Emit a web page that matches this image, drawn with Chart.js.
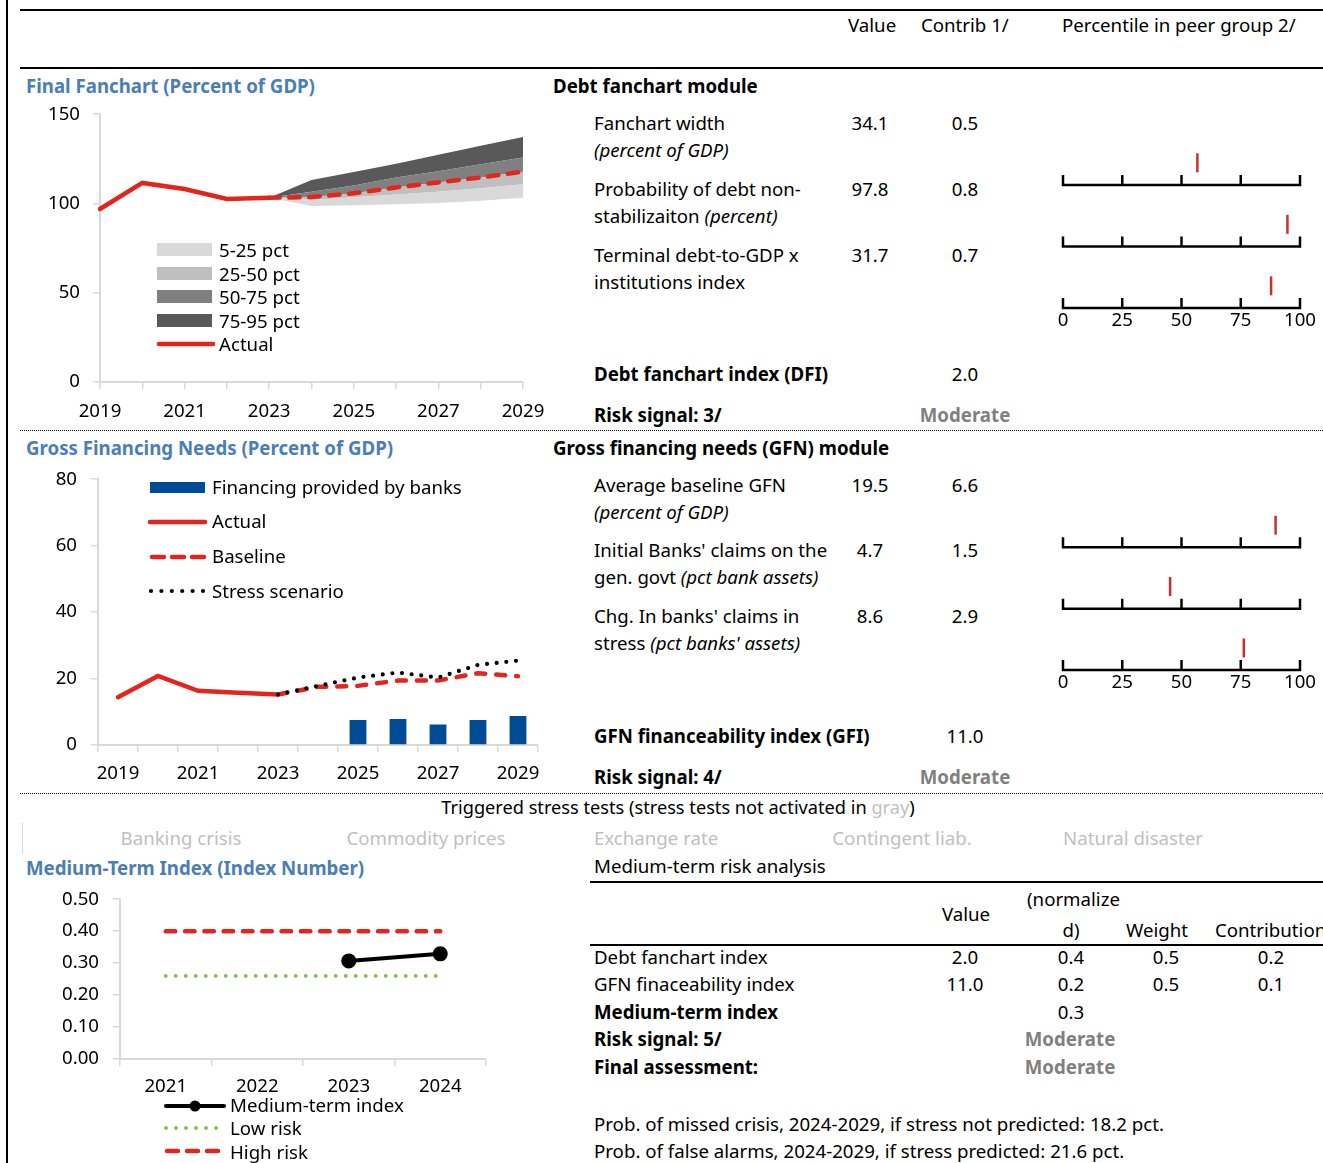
<!DOCTYPE html>
<html>
<head>
<meta charset="utf-8">
<script src="https://cdn.jsdelivr.net/npm/chart.js@4.4.0/dist/chart.umd.min.js"></script>
<style>
html, body { margin: 0; padding: 0; background: #fff; }
#page { position: relative; width: 1323px; height: 1163px; overflow: hidden;
        font-family: 'Noto Sans', sans-serif; font-size: 18.67px; color: #000; }
.t { position: absolute; white-space: nowrap; line-height: 1.2; transform: translateY(-50%); }
.c { transform: translate(-50%, -50%); }
.b { font-weight: bold; }
.ttl { font-weight: bold; color: #4a7eb5; }
.mod { font-weight: bold; color: #808080; }
.off { color: #bfbfbf; }
.rule { position: absolute; background: #000; }
.dots { position: absolute; height: 0; border-top: 1px dotted #000; }
.box { position: absolute; }
svg.sym { position: absolute; overflow: visible; }
</style>
</head>
<body>
<div id="page">

  <!-- frame rules -->
  <div class="rule" style="left:6px;top:0;width:2px;height:1163px"></div>
  <div class="rule" style="left:20px;top:9px;width:1303px;height:2px"></div>
  <div class="rule" style="left:20px;top:67px;width:1303px;height:2px"></div>
  <div class="dots" style="left:20px;top:430px;width:1303px"></div>
  <div class="dots" style="left:20px;top:793px;width:1303px"></div>
  <div class="rule" style="left:590px;top:881px;width:733px;height:2px"></div>
  <div class="rule" style="left:590px;top:944px;width:733px;height:2px"></div>
  <div class="rule" style="left:22px;top:823px;width:1px;height:31px;background:#d9d9d9"></div>

  <!-- column headers -->
  <span class="t" style="left:848px;top:25px">Value</span>
  <span class="t" style="left:921px;top:25px">Contrib 1/</span>
  <span class="t" style="left:1062px;top:25px">Percentile in peer group 2/</span>

  <!-- debt fanchart module -->
  <span class="t ttl" style="left:26px;top:86px">Final Fanchart (Percent of GDP)</span>
  <span class="t b" style="left:553px;top:86px">Debt fanchart module</span>

  <span class="t" style="left:594px;top:123px">Fanchart width</span>
  <span class="t" style="left:594px;top:150px"><i>(percent of GDP)</i></span>
  <span class="t c" style="left:870px;top:123px">34.1</span>
  <span class="t c" style="left:965px;top:123px">0.5</span>

  <span class="t" style="left:594px;top:189px">Probability of debt non-</span>
  <span class="t" style="left:594px;top:216px">stabilizaiton <i>(percent)</i></span>
  <span class="t c" style="left:870px;top:189px">97.8</span>
  <span class="t c" style="left:965px;top:189px">0.8</span>

  <span class="t" style="left:594px;top:255px">Terminal debt-to-GDP x</span>
  <span class="t" style="left:594px;top:282px">institutions index</span>
  <span class="t c" style="left:870px;top:255px">31.7</span>
  <span class="t c" style="left:965px;top:255px">0.7</span>

  <span class="t b" style="left:594px;top:374px">Debt fanchart index (DFI)</span>
  <span class="t c" style="left:965px;top:374px">2.0</span>
  <span class="t b" style="left:594px;top:415px">Risk signal: 3/</span>
  <span class="t c mod" style="left:965px;top:415px">Moderate</span>

  <!-- GFN module -->
  <span class="t ttl" style="left:26px;top:448px">Gross Financing Needs (Percent of GDP)</span>
  <span class="t b" style="left:553px;top:448px">Gross financing needs (GFN) module</span>

  <span class="t" style="left:594px;top:485px">Average baseline GFN</span>
  <span class="t" style="left:594px;top:512px"><i>(percent of GDP)</i></span>
  <span class="t c" style="left:870px;top:485px">19.5</span>
  <span class="t c" style="left:965px;top:485px">6.6</span>

  <span class="t" style="left:594px;top:550px">Initial Banks' claims on the</span>
  <span class="t" style="left:594px;top:577px">gen. govt <i>(pct bank assets)</i></span>
  <span class="t c" style="left:870px;top:550px">4.7</span>
  <span class="t c" style="left:965px;top:550px">1.5</span>

  <span class="t" style="left:594px;top:616px">Chg. In banks' claims in</span>
  <span class="t" style="left:594px;top:643px">stress <i>(pct banks' assets)</i></span>
  <span class="t c" style="left:870px;top:616px">8.6</span>
  <span class="t c" style="left:965px;top:616px">2.9</span>

  <span class="t b" style="left:594px;top:736px">GFN financeability index (GFI)</span>
  <span class="t c" style="left:965px;top:736px">11.0</span>
  <span class="t b" style="left:594px;top:777px">Risk signal: 4/</span>
  <span class="t c mod" style="left:965px;top:777px">Moderate</span>

  <!-- stress tests -->
  <span class="t c" style="left:678px;top:808px;font-size:18.2px">Triggered stress tests (stress tests not activated in <span class="off">gray</span>)</span>
  <span class="t c off" style="left:181px;top:838px">Banking crisis</span>
  <span class="t c off" style="left:426px;top:838px">Commodity prices</span>
  <span class="t off" style="left:594px;top:838px">Exchange rate</span>
  <span class="t c off" style="left:902px;top:838px">Contingent liab.</span>
  <span class="t c off" style="left:1133px;top:838px">Natural disaster</span>

  <!-- medium-term -->
  <span class="t ttl" style="left:26px;top:868px">Medium-Term Index (Index Number)</span>
  <span class="t" style="left:594px;top:866px">Medium-term risk analysis</span>

  <span class="t c" style="left:966px;top:914px">Value</span>
  <span class="t" style="left:1027px;top:899px">(normalize</span>
  <span class="t c" style="left:1071px;top:930px">d)</span>
  <span class="t c" style="left:1157px;top:930px">Weight</span>
  <span class="t" style="left:1215px;top:930px">Contribution</span>

  <span class="t" style="left:594px;top:957px">Debt fanchart index</span>
  <span class="t c" style="left:965px;top:957px">2.0</span>
  <span class="t c" style="left:1071px;top:957px">0.4</span>
  <span class="t c" style="left:1166px;top:957px">0.5</span>
  <span class="t c" style="left:1271px;top:957px">0.2</span>

  <span class="t" style="left:594px;top:984px">GFN finaceability index</span>
  <span class="t c" style="left:965px;top:984px">11.0</span>
  <span class="t c" style="left:1071px;top:984px">0.2</span>
  <span class="t c" style="left:1166px;top:984px">0.5</span>
  <span class="t c" style="left:1271px;top:984px">0.1</span>

  <span class="t b" style="left:594px;top:1012px">Medium-term index</span>
  <span class="t c" style="left:1071px;top:1012px">0.3</span>
  <span class="t b" style="left:594px;top:1039px">Risk signal: 5/</span>
  <span class="t c mod" style="left:1070px;top:1039px">Moderate</span>
  <span class="t b" style="left:594px;top:1067px">Final assessment:</span>
  <span class="t c mod" style="left:1070px;top:1067px">Moderate</span>

  <span class="t" style="left:594px;top:1124px">Prob. of missed crisis, 2024-2029, if stress not predicted: 18.2 pct.</span>
  <span class="t" style="left:594px;top:1151px">Prob. of false alarms, 2024-2029, if stress predicted: 21.6 pct.</span>

  <!-- charts -->
  <div class="box" style="left:20px;top:90px"><canvas id="fan" width="540" height="340"></canvas></div>
  <div class="box" style="left:20px;top:454px"><canvas id="gfn" width="540" height="336"></canvas></div>
  <div class="box" style="left:20px;top:874px"><canvas id="mt" width="540" height="226"></canvas></div>
  <div class="box" style="left:1030px;top:120px"><canvas id="debtPctChart" width="293" height="216"></canvas></div>
  <div class="box" style="left:1030px;top:485px"><canvas id="gfnPctChart" width="293" height="213"></canvas></div>

  <!-- fanchart legend -->
  <svg class="sym" style="left:157px;top:243px" width="55" height="13"><rect width="55" height="13" fill="#d9d9d9"/></svg>
  <svg class="sym" style="left:157px;top:267px" width="55" height="13"><rect width="55" height="13" fill="#bfbfbf"/></svg>
  <svg class="sym" style="left:157px;top:290px" width="55" height="13"><rect width="55" height="13" fill="#808080"/></svg>
  <svg class="sym" style="left:157px;top:314px" width="55" height="13"><rect width="55" height="13" fill="#595959"/></svg>
  <svg class="sym" style="left:157px;top:339px" width="58" height="10"><line x1="2" y1="5" x2="56" y2="5" stroke="#e2261d" stroke-width="4.5" stroke-linecap="round"/></svg>
  <span class="t" style="left:219px;top:250px">5-25 pct</span>
  <span class="t" style="left:219px;top:274px">25-50 pct</span>
  <span class="t" style="left:219px;top:297px">50-75 pct</span>
  <span class="t" style="left:219px;top:321px">75-95 pct</span>
  <span class="t" style="left:219px;top:344px">Actual</span>

  <!-- GFN legend -->
  <svg class="sym" style="left:150px;top:482px" width="55" height="11"><rect width="55" height="11" fill="#004b96"/></svg>
  <svg class="sym" style="left:148px;top:517px" width="60" height="10"><line x1="2" y1="5" x2="57" y2="5" stroke="#e2261d" stroke-width="4.5" stroke-linecap="round"/></svg>
  <svg class="sym" style="left:148px;top:552px" width="60" height="10"><line x1="4" y1="5" x2="57" y2="5" stroke="#e2261d" stroke-width="4.5" stroke-linecap="round" stroke-dasharray="12 8"/></svg>
  <svg class="sym" style="left:148px;top:586px" width="60" height="10"><line x1="3" y1="5" x2="57" y2="5" stroke="#000" stroke-width="4.2" stroke-linecap="round" stroke-dasharray="0 10.4"/></svg>
  <span class="t" style="left:212px;top:487px">Financing provided by banks</span>
  <span class="t" style="left:212px;top:521px">Actual</span>
  <span class="t" style="left:212px;top:556px">Baseline</span>
  <span class="t" style="left:212px;top:591px">Stress scenario</span>

  <!-- medium-term legend -->
  <svg class="sym" style="left:163px;top:1100px" width="64" height="12"><line x1="3" y1="6" x2="61" y2="6" stroke="#000" stroke-width="4" stroke-linecap="round"/><circle cx="32" cy="6" r="5.5" fill="#000"/></svg>
  <svg class="sym" style="left:163px;top:1123px" width="64" height="10"><line x1="3" y1="5" x2="60" y2="5" stroke="#7dc242" stroke-width="3.8" stroke-linecap="round" stroke-dasharray="0 10"/></svg>
  <svg class="sym" style="left:163px;top:1146px" width="64" height="10"><line x1="4" y1="5" x2="59" y2="5" stroke="#e2261d" stroke-width="4.5" stroke-linecap="round" stroke-dasharray="11 9"/></svg>
  <span class="t" style="left:230px;top:1105px">Medium-term index</span>
  <span class="t" style="left:230px;top:1128px">Low risk</span>
  <span class="t" style="left:230px;top:1152px">High risk</span>
</div>

<script>
// ---- Debt fanchart (percent of GDP) ----
const fanYears = ['2019', '2020', '2021', '2022', '2023', '2024', '2025', '2026', '2027', '2028', '2029'];
const fanActual = [96.9, 111.5, 108.1, 102.5, 103.2, null, null, null, null, null, null];
const fanP5  = [null, null, null, null, 103.2, 98.6, 99.0, 99.5, 100.3, 101.5, 103.2];
const fanP25 = [null, null, null, null, 103.2, 102.0, 103.5, 105.0, 106.5, 108.5, 110.7];
const fanP50 = [null, null, null, null, 103.2, 103.6, 105.7, 109.0, 111.8, 114.6, 117.8];
const fanP75 = [null, null, null, null, 103.2, 106.6, 110.0, 114.5, 118.0, 122.0, 125.8];
const fanP95 = [null, null, null, null, 103.2, 113.1, 117.6, 122.2, 127.3, 132.3, 137.3];
const fanTicks = [0, 50, 100, 150];

// ---- Gross financing needs (percent of GDP) ----
const gfnYears = ['2019', '2020', '2021', '2022', '2023', '2024', '2025', '2026', '2027', '2028', '2029'];
const gfnActual   = [14.4, 20.8, 16.3, 15.7, 15.2, null, null, null, null, null, null];
const gfnBaseline = [null, null, null, null, 15.2, 17.5, 17.8, 19.4, 19.4, 21.6, 20.7];
const gfnStress   = [null, null, null, null, 15.2, 17.8, 20.3, 21.8, 20.3, 24.1, 25.4];
const gfnBanks    = [null, null, null, null, null, null, 7.5, 7.8, 6.2, 7.5, 8.7];

// ---- Medium-term index ----
const mtYears = ['2021', '2022', '2023', '2024'];
const mtIndex = [null, null, 0.307, 0.329];
const mtLowRisk = [0.26, 0.26, 0.26, 0.26];
const mtHighRisk = [0.40, 0.40, 0.40, 0.40];

// ---- Percentile in peer group ----
const pctTicks = [0, 25, 50, 75, 100];
const debtPercentiles = [56.7, 94.7, 87.8];
const gfnPercentiles = [89.7, 45.2, 76.3];

const RED = '#e2261d';
const AXIS = '#d9d9d9';
Chart.defaults.font.family = "'Noto Sans', sans-serif";
Chart.defaults.font.size = 18.67;
Chart.defaults.color = '#000';

const noPlugins = { legend: { display: false }, tooltip: { enabled: false } };

function yAxis(min, max, step, width, pad, fmt) {
  return {
    min: min, max: max,
    afterBuildTicks: s => { s.ticks = []; for (let v = min; v <= max + 1e-9; v += step) s.ticks.push({ value: +v.toFixed(4) }); },
    ticks: { padding: pad, callback: v => (fmt ? fmt(v) : v) },
    grid: { drawOnChartArea: false, tickLength: 7, color: AXIS, lineWidth: 1.5 },
    border: { color: AXIS, width: 2 },
    afterFit: s => { s.width = width; }
  };
}

function xAxis(labels, height, every, offset, padding) {
  return {
    type: 'category',
    offset: offset,
    grid: { drawOnChartArea: false, tickLength: 7, color: AXIS, lineWidth: 1.5, offset: offset },
    border: { color: AXIS, width: 2 },
    ticks: { autoSkip: false, maxRotation: 0, padding: padding,
             callback: (v, i) => (i % every === 0 ? labels[i] : '') },
    afterFit: s => { s.height = height; }
  };
}

// Fanchart: percentile bands filled between consecutive percentile lines
const fanY = yAxis(0, 150, 50, 80, 13);
fanY.afterBuildTicks = s => { s.ticks = fanTicks.map(v => ({ value: v })); };
new Chart(document.getElementById('fan'), {
  type: 'line',
  data: {
    labels: fanYears,
    datasets: [
      { data: fanActual, borderColor: RED, borderWidth: 4.5, pointRadius: 0, fill: false, order: 0, borderCapStyle: 'round' },
      { data: fanP50, borderColor: RED, borderWidth: 4.5, borderDash: [10.5, 9.5], borderCapStyle: 'round', pointRadius: 0, fill: false, order: 0 },
      { data: fanP5, borderWidth: 0, pointRadius: 0, fill: false, order: 2 },
      { data: fanP25, borderWidth: 0, pointRadius: 0, fill: 2, backgroundColor: '#d9d9d9', order: 2 },
      { data: fanP50, borderWidth: 0, pointRadius: 0, fill: 3, backgroundColor: '#bfbfbf', order: 2 },
      { data: fanP75, borderWidth: 0, pointRadius: 0, fill: 4, backgroundColor: '#808080', order: 2 },
      { data: fanP95, borderWidth: 0, pointRadius: 0, fill: 5, backgroundColor: '#595959', order: 2 }
    ]
  },
  options: {
    responsive: false, animation: false,
    layout: { padding: { left: 0, top: 0, right: 37, bottom: 0 } },
    plugins: noPlugins,
    elements: { line: { tension: 0 } },
    scales: { x: xAxis(fanYears, 48, 2, false, 11), y: fanY }
  }
});

// Gross financing needs: lines with bank financing bars
new Chart(document.getElementById('gfn'), {
  type: 'bar',
  data: {
    labels: gfnYears,
    datasets: [
      { type: 'line', data: gfnStress, borderColor: '#000', borderWidth: 4.2, borderDash: [0, 9.7], borderCapStyle: 'round', pointRadius: 0, order: 0 },
      { type: 'line', data: gfnActual, borderColor: RED, borderWidth: 4.5, borderCapStyle: 'round', pointRadius: 0, order: 1 },
      { type: 'line', data: gfnBaseline, borderColor: RED, borderWidth: 4.5, borderDash: [9, 11], borderCapStyle: 'round', pointRadius: 0, order: 1 },
      { type: 'bar', data: gfnBanks, backgroundColor: '#004b96', barPercentage: 0.42, categoryPercentage: 1, order: 3 }
    ]
  },
  options: {
    responsive: false, animation: false,
    layout: { padding: { left: 0, top: 0, right: 22, bottom: 0 } },
    plugins: noPlugins,
    scales: { x: xAxis(gfnYears, 45, 2, true, 10), y: yAxis(0, 80, 20, 78, 14) }
  }
});

// Medium-term index with risk thresholds
new Chart(document.getElementById('mt'), {
  type: 'line',
  data: {
    labels: mtYears,
    datasets: [
      { data: mtIndex, borderColor: '#000', backgroundColor: '#000', borderWidth: 4, pointRadius: 5.5, pointHoverRadius: 5.5, order: 0 },
      { data: mtLowRisk, borderColor: '#7dc242', borderWidth: 3.8, borderDash: [0, 10], borderCapStyle: 'round', pointRadius: 0, order: 1 },
      { data: mtHighRisk, borderColor: RED, borderWidth: 4.5, borderDash: [9.5, 9.8], borderCapStyle: 'round', pointRadius: 0, order: 1 }
    ]
  },
  options: {
    responsive: false, animation: false,
    layout: { padding: { left: 0, top: 0, right: 74, bottom: 0 } },
    plugins: noPlugins,
    scales: {
      x: xAxis(mtYears, 41, 1, true, 9),
      y: yAxis(0, 0.5, 0.1, 100, 14, v => v.toFixed(2))
    }
  }
});

// Percentile strips: one axis line per indicator, drawn on the chart's own scales
const stripAxes = {
  id: 'stripAxes',
  beforeDatasetsDraw(chart) {
    const { ctx, scales: { x, y } } = chart;
    const rows = chart.data.datasets[0].data.length;
    ctx.save();
    ctx.strokeStyle = '#000';
    ctx.lineWidth = 2.5;
    for (let r = 0; r < rows; r++) {
      const py = y.getPixelForValue(r);
      ctx.beginPath();
      ctx.moveTo(x.getPixelForValue(pctTicks[0]) - 1.25, py);
      ctx.lineTo(x.getPixelForValue(pctTicks[pctTicks.length - 1]) + 1.25, py);
      pctTicks.forEach(v => {
        const px = x.getPixelForValue(v);
        ctx.moveTo(px, py);
        ctx.lineTo(px, py - 10);
      });
      ctx.stroke();
    }
    ctx.restore();
  }
};

function percentileStrip(id, values, maxY) {
  const n = values.length;
  new Chart(document.getElementById(id), {
    type: 'scatter',
    data: {
      datasets: [{
        data: values.map((v, i) => ({ x: v, y: (n - 1 - i) + 0.36 })),
        showLine: false,
        pointStyle: 'line', pointRotation: 90, pointRadius: 9.5, pointHoverRadius: 9.5,
        pointBorderColor: '#c9302c', pointBorderWidth: 2.5, clip: false
      }]
    },
    options: {
      responsive: false, animation: false,
      layout: { padding: { left: 33, right: 23, top: 0, bottom: 0 } },
      plugins: noPlugins,
      scales: {
        x: { type: 'linear', min: 0, max: 100,
             afterBuildTicks: s => { s.ticks = pctTicks.map(v => ({ value: v })); },
             grid: { display: false, drawTicks: false, tickLength: 0 }, border: { display: false },
             ticks: { padding: 1 },
             afterFit: s => { s.height = 28; } },
        y: { display: false, min: 0, max: maxY }
      }
    },
    plugins: [stripAxes]
  });
}
percentileStrip('debtPctChart', debtPercentiles, 2.86);
percentileStrip('gfnPctChart', gfnPercentiles, 2.82);
</script>
</body>
</html>
